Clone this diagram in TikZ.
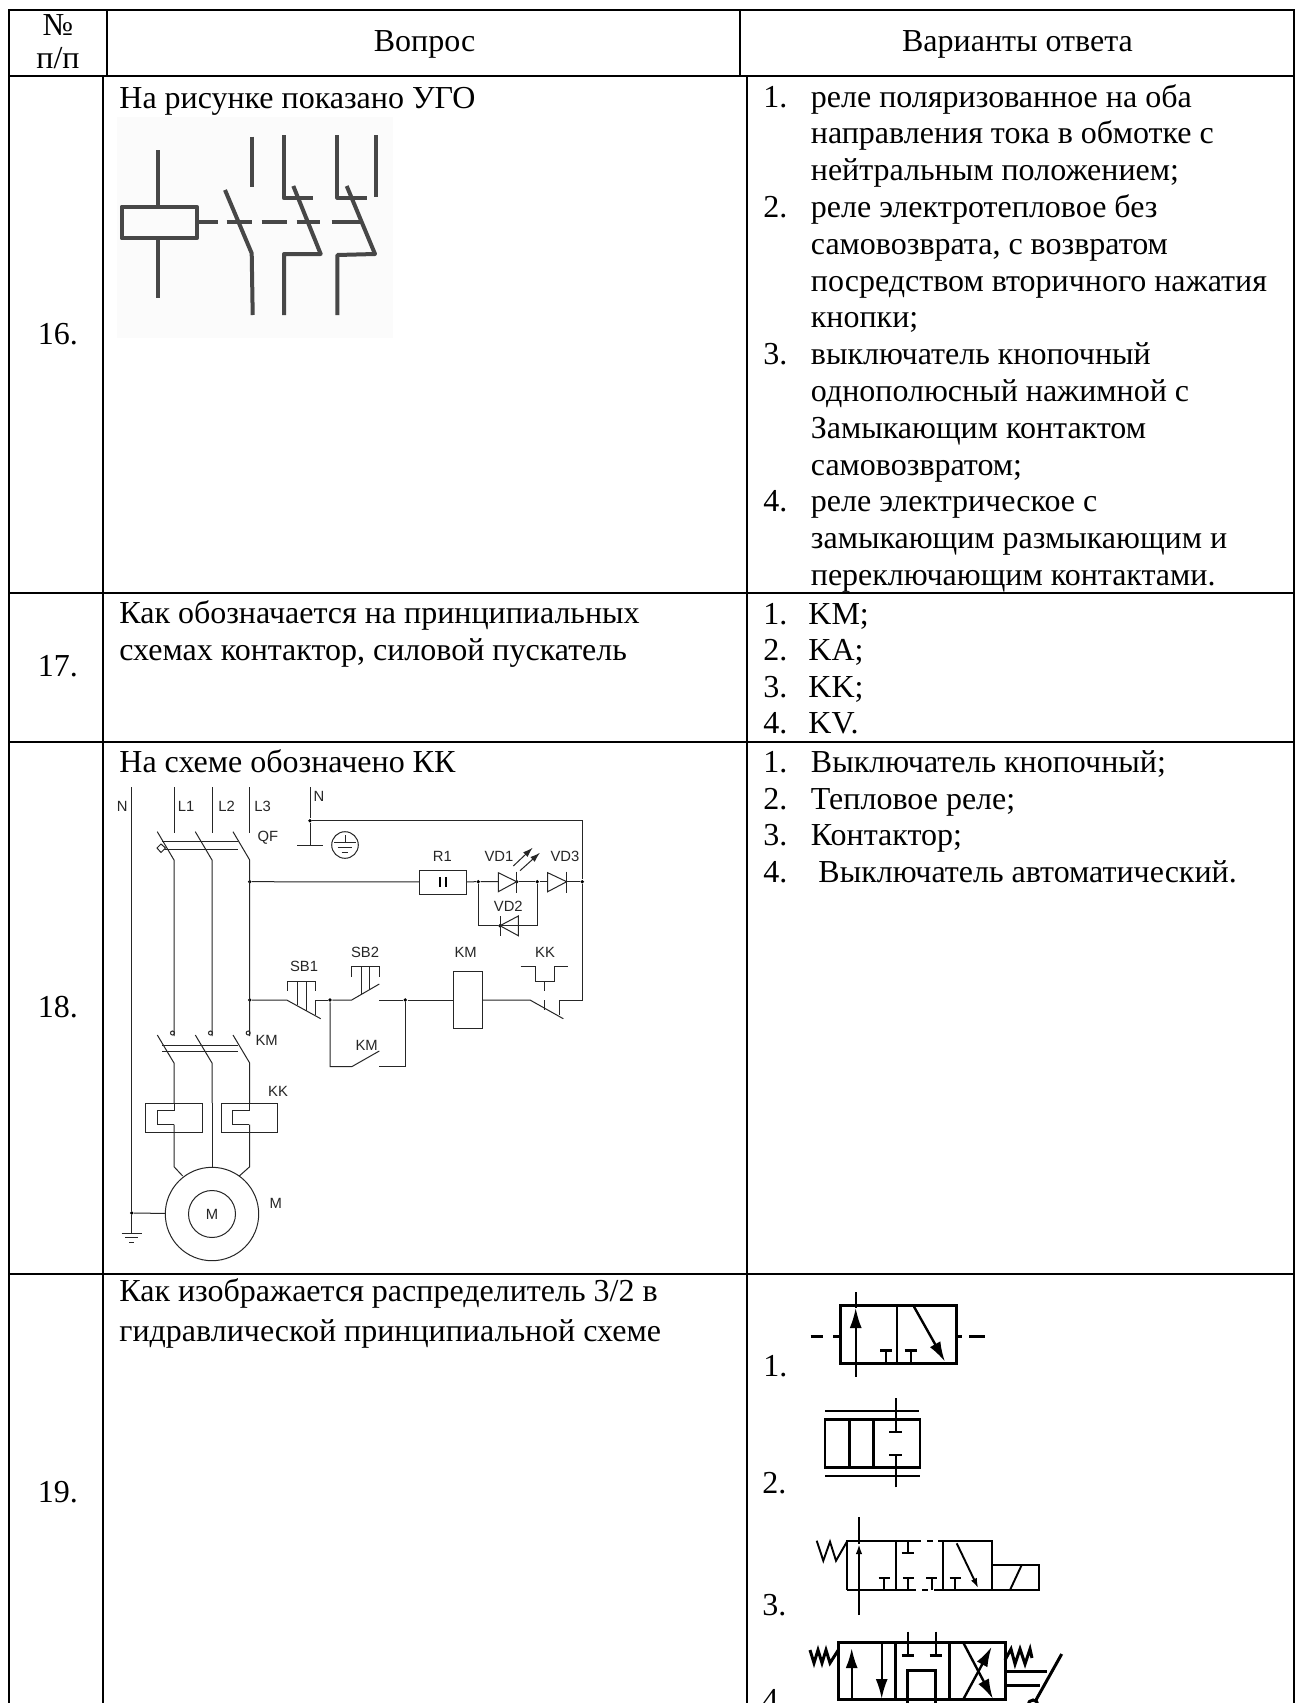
\documentclass[tikz,border=0pt]{standalone}
\usepackage{fontspec}
\setmainfont{Liberation Serif}
\newfontfamily\schfont{Liberation Sans}
\usetikzlibrary{arrows.meta,calc,positioning}
\tikzstyle{grid}=[line width=1pt,line cap=rect]
\tikzstyle{txt}=[anchor=base west,inner sep=0pt,font=\fontsize{16}{18}\selectfont]
\tikzstyle{ctr}=[anchor=base,inner sep=0pt,font=\fontsize{16}{18}\selectfont]
\tikzstyle{sch}=[line width=0.5pt,black!85]
\tikzstyle{lab}=[inner sep=0pt,text=black!85,font=\schfont\fontsize{7.4}{8}\selectfont]
\tikzstyle{dot}=[circle,fill=black,inner sep=0pt,minimum size=1.9pt]
\tikzstyle{rly}=[line width=2pt,black!72,line join=round]
\tikzstyle{vlv}=[line width=1.5pt,line join=miter]
\tikzstyle{vlm}=[line width=1.2pt,line join=miter]
\tikzstyle{vlt}=[line width=0.95pt]
\tikzstyle{head}=[-{Latex[length=10pt,width=6pt]}]
\tikzstyle{hds}=[-{Latex[length=5pt,width=3.2pt]}]
\begin{document}
\begin{tikzpicture}[x=0.5pt,y=-0.5pt]
\clip (0,0) rectangle (1300,1703);
\fill[white] (0,0) rectangle (1300,1703);

% % % % % % % % % % % % % % %
% table

\coordinate (A) at (9,9.5);
\coordinate (B) at (1294,9.5);
\coordinate (C) at (9,1703);
\coordinate (D) at (1294,1703);
\draw[grid] (C)--(A)--(B)--(D);
\foreach \y in {75.5,592.5,741.5,1274} {
\draw[grid] (9,\y)--(1294,\y);
}
\draw[grid] (107,9.5)--(107,75.5);
\draw[grid] (739.5,9.5)--(739.5,75.5);
\draw[grid] (103,75.5)--(103,1703);
\draw[grid] (747,75.5)--(747,1703);

\node[ctr] (no) at (58,35) {№};
\node[ctr] (pp) at (58,68.3) {п/п};
\node[ctr] (qhead) at (424.6,51.7) {Вопрос};
\node[ctr] (ahead) at (1017.5,51.7) {Варианты ответа};

\node[ctr] (n16) at (58,344) {16.};
\node[ctr] (n17) at (58,676) {17.};
\node[ctr] (n18) at (58,1017) {18.};
\node[ctr] (n19) at (58,1502) {19.};

\node[txt] (q16) at (119,108) {На рисунке показано УГО};
\node[txt] (q17a) at (119,623.7) {Как обозначается на принципиальных};
\node[txt] (q17b) at (119,660.3) {схемах контактор, силовой пускатель};
\node[txt] (q18) at (119,772.7) {На схеме обозначено КК};
\node[txt] (q19a) at (119,1301.7) {Как изображается распределитель 3/2 в};
\node[txt] (q19b) at (119,1341) {гидравлической принципиальной схеме};

\foreach \i/\t in {0/реле поляризованное на оба,1/направления тока в обмотке с,
2/нейтральным положением;,3/реле электротепловое без,4/{самовозврата, с возвратом},
5/посредством вторичного нажатия,6/кнопки;,7/выключатель кнопочный,
8/однополюсный нажимной с,9/Замыкающим контактом,10/самовозвратом;,
11/реле электрическое с,12/замыкающим размыкающим и,13/переключающим контактами.} {
\node[txt] (a16-\i) at (810.5,{107+36.8*\i}) {\t};
}
\foreach \i/\t in {0/1.,3/2.,7/3.,11/4.} {
\node[txt] (m16-\i) at (763,{107+36.8*\i}) {\t};
}
\foreach \i/\t/\u in {0/1./KM;,1/2./KA;,2/3./KK;,3/4./KV.} {
\node[txt] (m17-\i) at (763,{624+36.6*\i}) {\t};
\node[txt] (a17-\i) at (808,{624+36.6*\i}) {\u};
}
\foreach \i/\t/\u in {0/1./Выключатель кнопочный;,1/2./Тепловое реле;,2/3./Контактор;} {
\node[txt] (m18-\i) at (763,{772.2+36.8*\i}) {\t};
\node[txt] (a18-\i) at (810.5,{772.2+36.8*\i}) {\u};
}
\node[txt] (m18-3) at (763,882.6) {4.};
\node[txt] (a18-3) at (818,882.6) {Выключатель автоматический.};

\node[txt] (m19-1) at (763,1376.7) {1.};
\node[txt] (m19-2) at (762,1493) {2.};
\node[txt] (m19-3) at (762,1615) {3.};
\node[txt] (m19-4) at (762,1710) {4.};

% % % % % % % % % % % % % % %
% relay sketch of row 16

\fill[black!1.5] (117,117) rectangle (393,338);
\draw[rly] (121.7,206.7) rectangle (196.7,238.3);
\draw[rly] (158.3,150)--(158.3,206.7);
\draw[rly] (158.3,238.3)--(158.3,298.3);
\foreach \a/\b in {196.7/218,226.7/251.7,261.7/286.7,296.7/320,331.7/363.3} {
\draw[rly] (\a,221.7)--(\b,221.7);
}
\draw[rly] (251.7,136.7)--(251.7,187.3);
\draw[rly] (225,190)--(251.7,253.3)--(252.7,315);
\draw[rly] (284,135)--(284,198.3)--(312.7,198.3);
\draw[rly] (293.3,186)--(320.7,254)--(284,254)--(284,315);
\draw[rly] (337.3,135)--(337.3,197.7)--(366.7,197.7);
\draw[rly] (376,135)--(376,196.7);
\draw[rly] (346.7,186)--(375,254)--(337.3,255)--(337.3,315);

% % % % % % % % % % % % % % %
% circuit of row 18

\node[lab] (lN) at (122.3,806) {N};
\node[lab] (lL1) at (186,806) {L1};
\node[lab] (lL2) at (226.7,806) {L2};
\node[lab] (lL3) at (262.7,806) {L3};
\node[lab] (lN2) at (319,796.7) {N};
\node[lab] (lQF) at (268,838) {QF};
\node[lab] (lKMa) at (266.7,1040) {KM};
\node[lab] (lKKa) at (278,1091.7) {KK};
\node[lab] (lMa) at (275.7,1203) {M};
\node[lab] (lR1) at (442.3,856.7) {R1};
\node[lab] (lVD1) at (499,856.7) {VD1};
\node[lab] (lVD3) at (565,856.7) {VD3};
\node[lab] (lVD2) at (508.3,906.7) {VD2};
\node[lab] (lSB1) at (304,966.7) {SB1};
\node[lab] (lSB2) at (365,952) {SB2};
\node[lab] (lKMb) at (465.7,952) {KM};
\node[lab] (lKKb) at (545,952) {KK};
\node[lab] (lKMc) at (366.7,1045.3) {KM};

% junctions
\node[dot] (jN) at (310,820.7) {};
\node[dot] (j1) at (249.7,881.7) {};
\node[dot] (j2) at (478.3,881.7) {};
\node[dot] (j3) at (516.7,881.7) {};
\node[dot] (j4) at (537.3,881.7) {};
\node[dot] (j5) at (582.3,881.7) {};
\node[dot] (j6) at (249.7,1000) {};
\node[dot] (j7) at (330,1000) {};
\node[dot] (j8) at (405.3,1000) {};
\node[dot] (j9) at (131.7,1213) {};
\node[dot] (j10) at (500,925.7) {};

\node[draw,sch,minimum width=23.7pt,minimum height=12pt,inner sep=0pt,outer sep=0pt] (r1) at (443,882) {};
\node[draw,sch,minimum width=14.3pt,minimum height=28.3pt,inner sep=0pt,outer sep=0pt] (kmcoil) at (467.7,1000) {};
\node[draw,sch,circle,minimum size=46.7pt,inner sep=0pt,outer sep=0pt] (motor) at (212,1214) {};
\node[draw,sch,circle,minimum size=23.5pt,inner sep=0pt,outer sep=0pt,font=\schfont\fontsize{7.4}{8}\selectfont] (rotor) at (212,1214) {M};
\node[draw,sch,circle,minimum size=13.3pt,inner sep=0pt,outer sep=0pt] (earth) at (345,845) {};

% feeders and the two three-pole switches
\draw[sch] (131.7,787)--(j9)--(131.7,1233);
\draw[sch] (j9)--(motor);
\draw[sch] (121.7,1233)--(141.7,1233) (125,1237.7)--(138.3,1237.7) (129,1242.3)--(134.3,1242.3);
\foreach \x in {174,212,249.7} {
\draw[sch] (\x,787)--(\x,833);
\draw[sch] ({\x-16.7},831.7)--(\x,860)--(\x,1036);
\draw[sch] ({\x-1.5},1033) circle (2);
\draw[sch] ({\x-16.7},1035)--(\x,1063)--(\x,1103);
}
\draw[sch] (212,1103)--(212,1167);
\draw[sch] (162,841.7)--(238,841.7) (162,849)--(238,849);
\draw[sch] (162,1045)--(238,1045) (162,1051.7)--(238,1051.7);
\draw[sch,fill=white] (161,844)--(165.5,848)--(161,852.5)--(157,848)--cycle;
\draw[sch] (182.7,1176)--(174,1166.7)--(174,1124.7);
\draw[sch] (239.3,1176)--(249.7,1166.7)--(249.7,1124.7);

% thermal elements
\foreach \x in {145.7,221} {
\draw[sch] (\x,1103.3) rectangle ({\x+56.7},1132);
\draw[sch] ({\x+28.4},1103.3)--({\x+28.4},1110.7)--({\x+11.7},1110.7)--({\x+11.7},1124.7)--({\x+28.4},1124.7);
}

% neutral and earth
\draw[sch] (310,787)--(jN)--(310,845);
\draw[sch] (297,845)--(323,845);
\draw[sch] (jN)--(582.3,820.7)--(j5);
\draw[sch] (345,835)--(345,842.7);
\draw[sch] (334,842.7)--(356,842.7) (337.7,847.7)--(352.3,847.7) (341.7,852.7)--(348.3,852.7);

% lamp branch
\draw[sch] (j1)--(r1);
\draw[sch] (r1)--(j2)--(498.3,881.7);
\draw[sch] (j3)--(j4)--(547.7,881.7);
\draw[sch] (566.7,881.7)--(j5);
\draw[sch] (j5)--(582.3,1000)--(559.3,1000)--(559.3,1015);
\draw[sch] (498.3,872.7)--(516.7,881.7)--(498.3,891.7)--cycle;
\draw[sch] (516.7,871.7)--(516.7,892.7);
\draw[sch] (547.7,872.7)--(566.7,881.7)--(547.7,891.7)--cycle;
\draw[sch] (566.7,871.7)--(566.7,892.7);
\draw[sch] (j2)--(478.3,925.7)--(j10)--(537.3,925.7)--(j4);
\draw[sch] (518.3,916)--(500,925.7)--(518.3,935.7)--cycle;
\draw[sch] (500,916)--(500,935.7);
\draw[sch,hds] (513.3,866)--(532.7,847.7);
\draw[sch,hds] (520,870.7)--(540,852.7);
\draw[line width=1.1pt] (440,877)--(440,886.7);
\draw[line width=1.1pt] (446,877)--(446,886.7);

% control branch
\draw[sch] (j6)--(286.7,1000)--(320.7,1018.7);
\draw[sch] (287.3,990.7)--(287.3,981.3)--(315.7,981.3)--(315.7,990.7);
\draw[sch] (297.3,981.3)--(297.3,1005.3) (306.7,981.3)--(306.7,1010.7);
\draw[sch] (315.7,1014.7)--(315.7,1000)--(j7);
\draw[sch] (j7)--(351.7,1000)--(379.3,984);
\draw[sch] (351,976.7)--(351,966.7)--(379.3,966.7)--(379.3,976.7);
\draw[sch] (361.7,966.7)--(361.7,994.3) (369.3,966.7)--(369.3,989.7);
\draw[sch] (379.3,1000)--(j8)--(kmcoil);
\draw[sch] (j7)--(330,1066.7)--(351.7,1066.7)--(379.3,1051);
\draw[sch] (379.3,1066.7)--(405.3,1066.7)--(j8);
\draw[sch] (kmcoil)--(530,1000)--(563.3,1018.7);
\draw[sch] (520.7,966.7)--(535,966.7)--(535,981.7)--(554,981.7)--(554,966.7)--(568.3,966.7);
\draw[sch] (544.3,981.7)--(544.3,990.7) (544.3,1000)--(544.3,1010);

% % % % % % % % % % % % % % %
% valve 1

\draw[vlv] (840,1305) rectangle (956.7,1363.3);
\draw[vlt] (897.3,1305)--(897.3,1363.3);
\draw[vlt,head] (855.7,1376.7)--(855.7,1308);
\draw[vlt] (855.7,1308)--(855.7,1291.7);
\draw[vlm,head] (914,1306.7)--(945,1361.7);
\foreach \x in {886,910.7} {
\draw[vlt] (\x,1350)--(\x,1363.3);
\draw[vlv] ({\x-6},1350)--({\x+6},1350);
}
\draw[vlv] (810.7,1336.7)--(823.3,1336.7) (833,1336.7)--(840,1336.7);
\draw[vlv] (956.7,1336.7)--(961.7,1336.7) (969.3,1336.7)--(985,1336.7);

% valve 2
\draw[vlm] (825,1419.3) rectangle (920,1467.3);
\draw[vlm] (849.3,1419.3)--(849.3,1467.3) (873.3,1419.3)--(873.3,1467.3);
\draw[vlm] (825,1410.7)--(919,1410.7) (825,1475.7)--(920,1475.7);
\draw[vlm] (895.7,1398.3)--(895.7,1431.7) (889,1431.7)--(901.7,1431.7);
\draw[vlm] (895.7,1487.3)--(895.7,1455) (889,1455)--(901.7,1455);

% valve 3
\draw[vlt] (847.3,1590)--(847.3,1540.7)--(915,1540.7);
\draw[vlt,dashed] (915,1540.7)--(937,1540.7);
\draw[vlt] (938,1540.7)--(991.7,1540.7)--(991.7,1565);
\draw[vlt] (847.3,1590)--(910,1590);
\draw[vlt,dashed] (910,1590)--(938,1590);
\draw[vlt] (938,1590)--(1039.3,1590)--(1039.3,1565)--(991.7,1565)--(991.7,1590);
\draw[vlt] (1010,1590)--(1021.7,1565);
\draw[vlt] (896,1540.7)--(896,1590) (943.3,1540.7)--(943.3,1590);
\draw[vlt,hds] (859,1615)--(859,1544);
\draw[vlt] (859,1544)--(859,1516.7);
\draw[vlt] (816.7,1540.7)--(823.3,1560.7)--(830,1541.7)--(836,1560.7)--(847.3,1541);
\draw[vlt] (908.3,1540.7)--(908.3,1552.7) (901.7,1552.7)--(914,1552.7);
\foreach \x in {884,908.3,931.7,955} {
\draw[vlt] (\x,1590)--(\x,1578.3) ({\x-5.5},1578.3)--({\x+5.5},1578.3);
}
\draw[vlt,hds] (956.7,1543.3)--(978.3,1588.3);

% valve 4
\draw[vlv] (838.3,1642.7) rectangle (1005,1699.3);
\draw[vlv] (895,1642.7)--(895,1699.3) (949.3,1642.7)--(949.3,1699.3);
\draw[vlm,head] (851.7,1699.3)--(851.7,1648);
\draw[vlm,head] (881.7,1642.7)--(881.7,1699);
\foreach \x in {907.7,935.7} {
\draw[vlm] (\x,1631.7)--(\x,1655);
\draw[vlv] ({\x-6},1655)--({\x+6},1655);
}
\draw[vlv] (907.7,1703)--(907.7,1670.7)--(935.7,1670.7)--(935.7,1703);
\draw[vlm,head] (963.3,1699.3)--(991.7,1646.7);
\draw[vlm,head] (963.3,1642.7)--(993,1699);
\draw[vlv] (810,1650)--(814,1663)--(818,1650)--(822,1663)--(826,1650)--(830,1663)--(838.3,1650);
\draw[vlv] (1005,1660)--(1011,1649)--(1015,1664)--(1020,1649)--(1025,1664)--(1030,1649)--(1032,1658);
\draw[vlv] (1005,1671.7)--(1046.7,1671.7) (1005,1685)--(1040,1685);
\draw[vlv] (1061.7,1654)--(1035,1701.7);
\draw[vlv] (1033,1705) circle (5);

\end{tikzpicture}
\end{document}
